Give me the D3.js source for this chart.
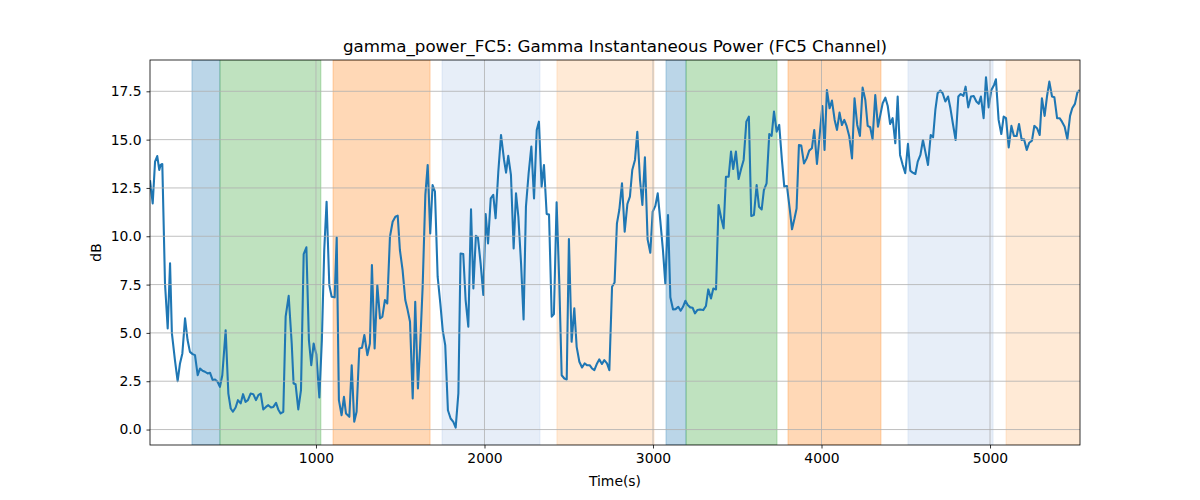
<!DOCTYPE html>
<html><head><meta charset="utf-8">
<script src="https://cdn.jsdelivr.net/npm/d3@7"></script>
<style>body{margin:0;background:#fff}svg{font-family:"DejaVu Sans",sans-serif}</style>
</head><body><svg id="c" width="1200" height="500"></svg>
<script>
const times = [15,31,45,58,70,78,88,104,120,134,145,163,179,193,207,223,238,252,268,282,298,312,327,341,357,371,387,401,416,430,444,464,480,494,507,523,537,553,567,582,596,612,628,644,658,672,687,703,717,733,747,763,776,790,806,820,838,856,867,879,895,911,927,943,958,972,986,1002,1020,1035,1049,1063,1079,1093,1111,1123,1136,1152,1166,1178,1198,1212,1227,1241,1257,1273,1287,1305,1320,1332,1348,1364,1380,1394,1409,1423,1439,1455,1471,1485,1498,1514,1530,1544,1558,1574,1589,1605,1617,1633,1649,1663,1678,1692,1706,1722,1738,1752,1767,1783,1799,1815,1829,1845,1858,1874,1888,1904,1920,1934,1949,1961,1977,1993,2007,2021,2037,2052,2066,2082,2098,2116,2128,2141,2157,2173,2187,2201,2217,2232,2246,2262,2278,2294,2310,2323,2339,2353,2369,2383,2399,2412,2428,2444,2458,2474,2488,2501,2517,2533,2547,2563,2579,2594,2608,2624,2638,2652,2668,2681,2697,2711,2727,2741,2757,2772,2786,2800,2816,2832,2848,2863,2877,2893,2907,2923,2937,2952,2968,2984,2998,3014,3028,3043,3059,3073,3089,3103,3119,3134,3150,3164,3178,3192,3206,3221,3235,3249,3263,3279,3298,3314,3328,3344,3358,3374,3389,3405,3419,3433,3449,3463,3476,3492,3508,3524,3538,3554,3569,3583,3599,3615,3629,3645,3658,3674,3690,3704,3718,3734,3749,3765,3779,3795,3811,3825,3840,3852,3866,3880,3896,3912,3927,3943,3957,3973,3989,4005,4018,4032,4048,4062,4078,4092,4107,4121,4135,4149,4165,4181,4196,4212,4228,4244,4260,4274,4289,4303,4319,4335,4347,4363,4379,4393,4407,4422,4438,4452,4466,4482,4497,4513,4527,4541,4557,4571,4587,4602,4616,4632,4648,4662,4676,4689,4705,4719,4735,4751,4765,4780,4796,4812,4826,4842,4855,4871,4887,4903,4919,4933,4946,4962,4976,4992,5008,5024,5035,5051,5067,5081,5095,5111,5127,5142,5158,5172,5188,5202,5218,5233,5249,5263,5279,5295,5308,5324,5338,5352,5368,5382,5398,5413,5427,5443,5459,5475,5488,5504,5518,5532];
const values = [12.9,11.7,13.86,14.15,13.43,13.69,13.74,7.56,5.23,8.6,4.97,3.59,2.5,3.42,3.94,5.75,4.63,4.02,3.9,3.85,2.81,3.16,3.04,2.99,2.9,2.94,2.56,2.59,2.47,2.21,2.81,5.14,1.86,1.09,0.92,1.14,1.52,1.35,1.83,1.43,1.52,1.86,1.83,1.52,1.78,1.86,1.04,1.17,1.26,1.14,1.17,1.38,1.04,0.83,0.92,5.84,6.92,4.45,2.38,2.34,1.04,2.04,9.08,9.43,4.63,3.33,4.45,3.9,1.66,4.63,9.29,11.79,7.47,6.87,6.84,9.94,1.52,0.74,1.69,0.83,0.66,3.33,0.4,0.92,4.19,4.23,4.89,3.85,4.45,8.51,4.19,7.47,5.75,5.84,6.7,6.52,9.98,10.75,11.01,11.07,9.29,8.25,6.7,6.18,5.58,1.61,6.61,2.12,4.11,7.39,12.14,13.69,10.15,12.65,12.31,7.91,6.52,5.14,4.37,1.0,0.57,0.4,0.1,1.87,9.11,9.08,6.7,5.32,11.39,7.3,10.03,9.94,8.6,6.96,11.15,9.63,11.96,12.14,10.93,13.34,15.24,13.95,13.29,14.16,13.17,9.37,12.22,11.01,8.6,5.7,11.53,13.26,14.64,11.96,15.5,15.93,12.57,13.69,11.15,11.12,5.84,5.97,11.76,7.56,2.81,2.64,2.59,9.86,4.54,6.27,4.28,3.51,3.21,3.42,3.33,3.33,3.16,3.07,3.42,3.63,3.39,3.59,3.42,3.07,7.39,7.61,10.67,11.36,12.74,10.24,11.67,12.05,13.43,13.95,15.41,12.91,11.62,14.09,9.84,9.15,11.27,11.57,12.22,10.84,9.29,7.56,11.1,6.84,6.21,6.23,6.35,6.15,6.35,6.66,6.44,6.32,6.3,6.01,6.18,6.21,6.18,6.39,7.25,6.78,7.3,7.25,11.62,10.93,10.41,13.08,13.08,14.38,13.48,14.38,12.96,13.52,13.95,15.93,16.19,11.05,11.1,12.65,11.53,11.39,12.39,12.74,15.29,15.19,16.45,15.41,15.76,13.95,12.57,12.6,11.44,10.36,10.93,11.44,14.72,14.69,13.77,14.03,14.43,14.55,15.5,13.74,15.24,16.74,14.46,17.57,16.62,17.02,16.02,15.5,16.4,15.76,16.02,15.71,15.16,14.03,17.14,15.76,15.19,17.69,17.05,15.71,15.64,15.02,17.31,15.67,16.19,16.88,17.17,16.74,15.81,16.11,14.81,17.23,14.21,13.69,13.26,14.78,13.39,13.29,13.22,13.86,14.21,14.98,14.38,13.69,15.24,15.12,16.57,17.4,17.54,17.4,16.97,17.23,16.62,15.81,14.98,17.23,17.36,17.26,17.74,16.67,17.23,17.26,16.97,16.85,17.23,16.11,18.23,16.67,17.57,17.83,18.12,16.02,15.29,16.19,16.11,14.6,15.71,15.19,15.19,15.81,14.98,15.02,14.47,14.84,14.95,15.71,15.59,15.24,17.14,16.23,17.23,18.0,17.23,17.19,16.11,16.11,15.93,15.67,15.02,16.23,16.62,16.85,17.43,17.57];
const spanStarts = [264,430,1101,1748,2430,3077,3196,3801,4513,5095];
const spanEnds   = [430,1029,1677,2329,3006,3196,3736,4353,5018,5600];
const spanColors = ["#1f77b4","#2ca02c","#ff7f0e","#aec7e8","#ffbb78","#1f77b4","#2ca02c","#ff7f0e","#aec7e8","#ffbb78"];
const xTicks = [1000,2000,3000,4000,5000];
const yTicks = [0,2.5,5,7.5,10,12.5,15,17.5];
const titleText = "gamma_power_FC5: Gamma Instantaneous Power (FC5 Channel)";

const L=150,R=1080,T=60,B=445;
const svg=d3.select("#c");
const x=d3.scaleLinear().domain([15,5534]).range([L,R]);
const y=d3.scaleLinear().domain([-0.8,19.12]).range([B,T]);
svg.append("defs").append("clipPath").attr("id","cp").append("rect").attr("x",L).attr("y",T).attr("width",R-L).attr("height",B-T);
const g=svg.append("g").attr("clip-path","url(#cp)");
spanStarts.forEach((s,i)=>{
  g.append("rect").attr("x",x(s)).attr("y",T).attr("width",x(spanEnds[i])-x(s)).attr("height",B-T)
   .attr("fill",spanColors[i]).attr("fill-opacity",0.3).attr("stroke",spanColors[i]).attr("stroke-opacity",0.3).attr("stroke-width",1);
});
// grid
svg.append("g").selectAll("line").data(xTicks).join("line").attr("x1",d=>x(d)).attr("x2",d=>x(d)).attr("y1",T).attr("y2",B).attr("stroke","#b0b0b0").attr("stroke-width",0.8);
svg.append("g").selectAll("line").data(yTicks).join("line").attr("y1",d=>y(d)).attr("y2",d=>y(d)).attr("x1",L).attr("x2",R).attr("stroke","#b0b0b0").attr("stroke-width",0.8);
const pts=times.map((t,i)=>[t,values[i]]);
g.append("path").datum(pts).attr("fill","none").attr("stroke","#1f77b4").attr("stroke-width",2.08).attr("stroke-linejoin","round")
 .attr("d",d3.line().x(d=>x(d[0])).y(d=>y(d[1])));
// axes
const xa=svg.append("g").attr("transform",`translate(0,${B})`).call(d3.axisBottom(x).tickValues(xTicks).tickFormat(d3.format("d")).tickSizeOuter(0).tickSize(3.5).tickPadding(4.9));
const ya=svg.append("g").attr("transform",`translate(${L},0)`).call(d3.axisLeft(y).tickValues(yTicks).tickFormat(d3.format(".1f")).tickSizeOuter(0).tickSize(3.5).tickPadding(4.9));
[xa,ya].forEach(a=>{a.select(".domain").remove();a.selectAll("text").attr("font-size","13.9px").attr("fill","#000").attr("font-family","DejaVu Sans");a.selectAll("line").attr("stroke","#000").attr("stroke-width",0.8);});
svg.append("rect").attr("x",L).attr("y",T).attr("width",R-L).attr("height",B-T).attr("fill","none").attr("stroke","#000").attr("stroke-width",0.8);
svg.append("text").attr("x",(L+R)/2).attr("y",T-8).attr("text-anchor","middle").attr("font-size","16.7px").text(titleText);
svg.append("text").attr("x",(L+R)/2).attr("y",486).attr("text-anchor","middle").attr("font-size","13.9px").text("Time(s)");
svg.append("text").attr("transform",`translate(101,${(T+B)/2}) rotate(-90)`).attr("text-anchor","middle").attr("font-size","13.9px").text("dB");
</script></body></html>
